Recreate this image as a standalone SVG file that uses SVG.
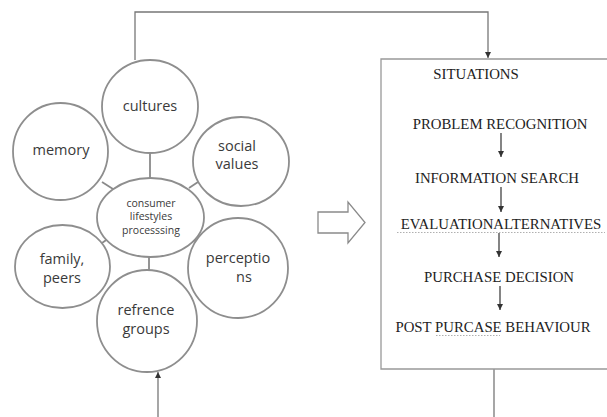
<svg xmlns="http://www.w3.org/2000/svg" width="607" height="417" viewBox="0 0 607 417">
<style>
.c{fill:#fff;stroke:#8e8e8e;stroke-width:1.8}
.l{stroke:#8a8a8a;stroke-width:1.8;fill:none}
.t{font-family:"Open Sans","Liberation Sans",sans-serif;font-size:14.5px;fill:#3a3a3a;text-anchor:middle}
.s{font-family:"Open Sans","Liberation Sans",sans-serif;font-size:10.5px;fill:#3a3a3a;text-anchor:middle}
.b{font-family:"Liberation Serif","Times New Roman",serif;font-size:14.8px;fill:#222;text-anchor:middle}
.k{stroke:#777;stroke-width:1.3;fill:none}
.a{stroke:#333;stroke-width:1.2;fill:none}
</style>
<defs>
<marker id="ah" viewBox="0 0 10 10" refX="10" refY="5" markerWidth="6" markerHeight="6" markerUnits="userSpaceOnUse" orient="auto">
<path d="M0,0 L10,5 L0,10 z" fill="#333"/>
</marker>
</defs>
<rect width="607" height="417" fill="#fff"/>
<g id="connectors">
<path class="k" d="M135,60 V12 H488 V58" marker-end="url(#ah)"/>
<path class="k" d="M158,417 V372" marker-end="url(#ah)"/>
<path class="k" d="M494,369 V417"/>
<line class="l" x1="150" y1="153" x2="150" y2="178"/>
<line class="l" x1="149" y1="257" x2="149" y2="270"/>
<line class="l" x1="102" y1="182" x2="113" y2="189"/>
<line class="l" x1="189" y1="188" x2="198" y2="182"/>
<line class="l" x1="102" y1="243" x2="109" y2="238"/>
<line class="l" x1="190" y1="243" x2="196" y2="240"/>
<path d="M318,212 H348 V202 L365,222.5 L348,243 V233 H318 Z" fill="#fff" stroke="#8a8a8a" stroke-width="1.3"/>
<line class="a" x1="501" y1="133" x2="501" y2="157" marker-end="url(#ah)"/>
<line class="a" x1="501" y1="187" x2="501" y2="212" marker-end="url(#ah)"/>
<line class="a" x1="499" y1="233" x2="499" y2="257" marker-end="url(#ah)"/>
<line class="a" x1="500" y1="286" x2="500" y2="310" marker-end="url(#ah)"/>
</g>
<g id="center"><ellipse class="c" cx="150.5" cy="217.5" rx="53.5" ry="39.5"/>
<text class="s" x="151" y="207">consumer</text><text class="s" x="151" y="220">lifestyles</text><text class="s" x="151" y="234">processsing</text></g>
<g id="cultures"><ellipse class="c" cx="150" cy="106.5" rx="48" ry="46.5"/><text class="t" x="150" y="111">cultures</text></g>
<g id="memory"><ellipse class="c" cx="60.5" cy="151.5" rx="47.5" ry="48.5"/><text class="t" x="61" y="155">memory</text></g>
<g id="social"><ellipse class="c" cx="241" cy="161.5" rx="48" ry="44.5"/><text class="t" x="237" y="151">social</text><text class="t" x="237" y="169">values</text></g>
<g id="family"><ellipse class="c" cx="62.5" cy="266.5" rx="47.5" ry="41.5"/><text class="t" x="62" y="264">family,</text><text class="t" x="62" y="283">peers</text></g>
<g id="perceptions"><ellipse class="c" cx="238" cy="268" rx="50" ry="50"/><text class="t" x="238" y="263">perceptio</text><text class="t" x="244" y="282">ns</text></g>
<g id="refrence"><ellipse class="c" cx="147" cy="321" rx="50" ry="51"/><text class="t" x="146" y="315">refrence</text><text class="t" x="146" y="334">groups</text></g>
<g id="situations">
<path d="M612,59 H381 V369 H612" fill="none" stroke="#999" stroke-width="1.3"/>
<text class="b" x="476" y="79">SITUATIONS</text>
<text class="b" x="500" y="129">PROBLEM RECOGNITION</text>
<text class="b" x="497" y="183">INFORMATION SEARCH</text>
<text class="b" x="501" y="229">EVALUATIONALTERNATIVES</text>
<path d="M397,232.5 H605" stroke="#b0b0b0" stroke-width="1" stroke-dasharray="1.5 1.5"/>
<text class="b" x="499" y="282">PURCHASE DECISION</text>
<text class="b" x="493" y="332">POST PURCASE BEHAVIOUR</text>
<path d="M436,335.5 H500" stroke="#b0b0b0" stroke-width="1" stroke-dasharray="1.5 1.5"/>
</g>
</svg>
